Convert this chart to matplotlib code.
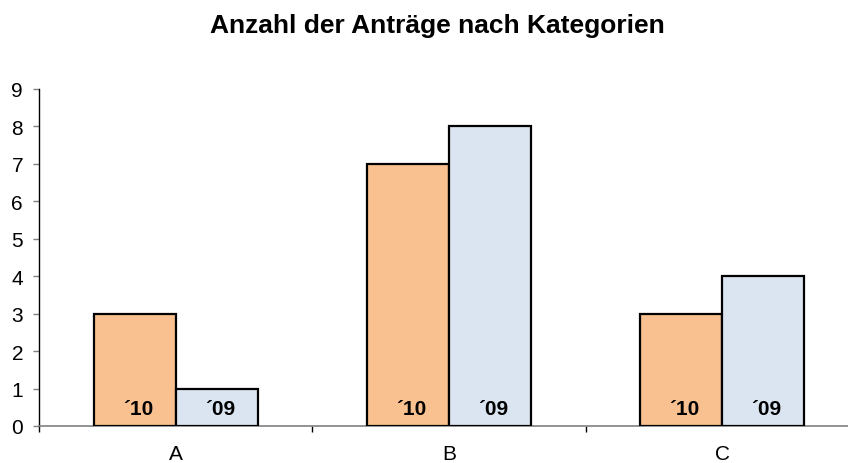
import matplotlib
matplotlib.use("Agg")
import matplotlib.pyplot as plt
import numpy as np

categories = ["A", "B", "C"]
values_10 = [3, 7, 3]
values_09 = [1, 8, 4]
series_labels = ["´10", "´09"]
title = "Anzahl der Anträge nach Kategorien"
yticks = list(range(0, 10))

plt.rcParams['font.family'] = ['Liberation Sans', 'DejaVu Sans']

fig = plt.figure(figsize=(8.48, 4.64), dpi=100)
W, H = 848, 464
left, right, top, bottom = 39, 859, 90, 427
ax = fig.add_axes([left / W, 1 - bottom / H, (right - left) / W, (bottom - top) / H])

x = np.arange(len(categories))
bw = 0.3
ax.bar(x - bw / 2, values_10, bw, color="#F9C190", edgecolor="black", linewidth=1.6, zorder=3)
ax.bar(x + bw / 2, values_09, bw, color="#DBE5F1", edgecolor="black", linewidth=1.6, zorder=3)

for i in range(len(categories)):
    ax.text(x[i] - bw / 2 + 0.012, 0.33, series_labels[0], ha="center", va="baseline",
            fontsize=15, fontweight="bold", zorder=4)
    ax.text(x[i] + bw / 2 + 0.012, 0.33, series_labels[1], ha="center", va="baseline",
            fontsize=15, fontweight="bold", zorder=4)

ax.set_xlim(-0.5, len(categories) - 0.5)
ax.set_ylim(0, 9)
ax.set_yticks(yticks)
ax.set_yticklabels([str(t) for t in yticks], fontsize=15)
ax.tick_params(axis="y", length=4.5, width=1, color="#808080", pad=7)

ax.set_xticks(np.arange(len(categories) + 1) - 0.5)
ax.set_xticklabels([])
ax.tick_params(axis="x", which="major", length=4, width=1, color="black")
ax.set_xticks(x, minor=True)
ax.set_xticklabels(categories, minor=True, fontsize=15)
ax.tick_params(axis="x", which="minor", length=0, pad=13)

for s in ["top", "right"]:
    ax.spines[s].set_visible(False)
ax.spines["left"].set_color("black")
ax.spines["left"].set_linewidth(1)
ax.spines["bottom"].set_color("#808080")
ax.spines["bottom"].set_linewidth(1.2)

fig.text(437.5 / W, 1 - 33 / H, title, ha="center", va="baseline", fontsize=19, fontweight="bold")

fig.savefig("out.png", dpi=100)
